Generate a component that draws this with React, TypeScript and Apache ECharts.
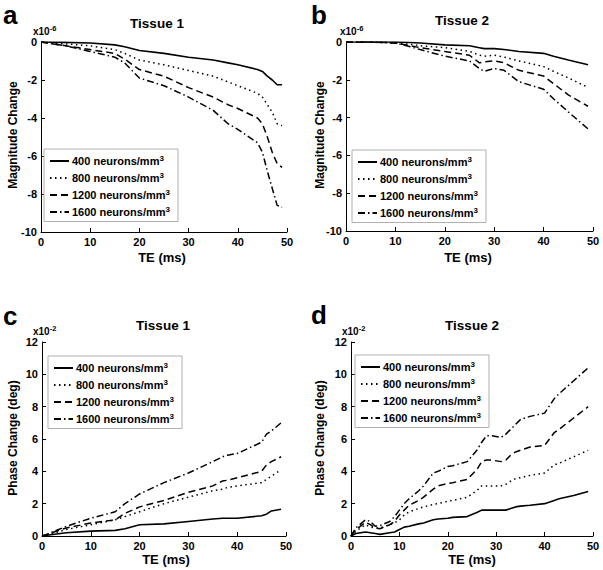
import React, { useEffect, useRef } from "react";
import * as echarts from "echarts";

// ---------- Data ----------
const seriesNames = ["400 neurons/mm", "800 neurons/mm", "1200 neurons/mm", "1600 neurons/mm"];

// Panel a: Tissue 1, magnitude change (x10^-6)
const xA = [0, 5, 10, 15, 17, 20, 25, 30, 35, 38, 40, 44, 45, 46, 47, 48, 49];
const a400 = [0, -0.02, -0.05, -0.15, -0.25, -0.45, -0.6, -0.8, -0.95, -1.1, -1.2, -1.45, -1.55, -1.8, -2.0, -2.25, -2.25];
const a800 = [0, -0.1, -0.2, -0.4, -0.6, -0.95, -1.2, -1.5, -1.8, -2.1, -2.3, -2.7, -2.9, -3.3, -3.7, -4.3, -4.4];
const a1200 = [0, -0.2, -0.4, -0.6, -0.9, -1.45, -1.8, -2.4, -2.9, -3.3, -3.5, -4.0, -4.3, -5.0, -5.8, -6.4, -6.6];
const a1600 = [0, -0.2, -0.5, -0.8, -1.1, -1.9, -2.3, -2.9, -3.6, -4.3, -4.6, -5.3, -5.8, -6.8, -7.7, -8.6, -8.7];

// Panel b: Tissue 2, magnitude change (x10^-6)
const xB = [0, 5, 10, 13, 15, 20, 25, 27, 28, 30, 32, 35, 40, 42, 45, 49];
const b400 = [0, 0, 0, -0.03, -0.05, -0.15, -0.2, -0.3, -0.35, -0.35, -0.4, -0.5, -0.6, -0.75, -0.95, -1.2];
const b800 = [0, 0, -0.05, -0.12, -0.2, -0.3, -0.5, -0.7, -0.75, -0.7, -0.8, -1.0, -1.3, -1.55, -1.9, -2.4];
const b1200 = [0, 0, -0.05, -0.2, -0.3, -0.5, -0.7, -1.1, -1.05, -1.0, -1.1, -1.5, -1.8, -2.2, -2.8, -3.4];
const b1600 = [0, 0, -0.05, -0.25, -0.4, -0.75, -1.0, -1.4, -1.55, -1.4, -1.5, -2.1, -2.5, -3.0, -3.7, -4.6];

// Panel c: Tissue 1, phase change (x10^-2 deg)
const xC = [0, 1, 5, 10, 15, 17, 20, 25, 30, 35, 37, 38, 40, 45, 46, 47, 49];
const c400 = [0, 0.05, 0.2, 0.3, 0.35, 0.45, 0.7, 0.75, 0.9, 1.05, 1.1, 1.1, 1.1, 1.25, 1.35, 1.55, 1.65];
const c800 = [0, 0.05, 0.4, 0.7, 1.0, 1.2, 1.5, 2.0, 2.4, 2.8, 2.9, 3.0, 3.1, 3.3, 3.5, 3.7, 4.1];
const c1200 = [0, 0.1, 0.5, 0.8, 1.0, 1.4, 1.8, 2.2, 2.7, 3.1, 3.4, 3.45, 3.6, 4.0, 4.4, 4.6, 4.9];
const c1600 = [0, 0.1, 0.6, 1.1, 1.5, 2.0, 2.6, 3.3, 3.9, 4.6, 4.9, 5.0, 5.1, 5.8, 6.3, 6.5, 7.0];

// Panel d: Tissue 2, phase change (x10^-2 deg)
const xD = [0, 1, 3, 4, 5, 6, 8, 9, 10, 11, 12, 14, 15, 17, 18, 20, 21, 24, 26, 27, 28, 29, 31, 32, 33, 34, 35, 37, 40, 42, 43, 46, 49];
const d400 = [0, 0.15, 0.25, 0.2, 0.15, 0.1, 0.2, 0.25, 0.4, 0.55, 0.6, 0.75, 0.8, 1.0, 1.05, 1.1, 1.15, 1.2, 1.45, 1.6, 1.6, 1.6, 1.6, 1.6, 1.7, 1.8, 1.85, 1.9, 2.0, 2.2, 2.3, 2.5, 2.75];
const d800 = [0, 0.3, 0.7, 0.55, 0.5, 0.5, 0.7, 0.8, 1.0, 1.3, 1.5, 1.7, 1.8, 1.95, 2.0, 2.15, 2.2, 2.4, 2.8, 3.1, 3.1, 3.1, 3.1, 3.2, 3.4, 3.55, 3.6, 3.75, 3.9, 4.4, 4.5, 4.9, 5.3];
const d1200 = [0, 0.4, 0.85, 0.7, 0.5, 0.45, 0.7, 0.9, 1.3, 1.6, 1.9, 2.2, 2.4, 2.9, 3.1, 3.25, 3.3, 3.5, 4.1, 4.6, 4.7, 4.7, 4.6, 4.7, 5.0, 5.2, 5.3, 5.5, 5.6, 6.4, 6.6, 7.3, 8.0];
const d1600 = [0, 0.5, 1.0, 0.9, 0.6, 0.65, 0.9, 1.2, 1.6, 2.0, 2.3, 2.8, 3.1, 3.9, 4.0, 4.3, 4.35, 4.6, 5.3, 5.8, 6.2, 6.2, 6.1, 6.3, 6.6, 6.9, 7.2, 7.4, 7.6, 8.5, 8.8, 9.6, 10.4];

const magTicks = { min: -10, max: 0, interval: 2 };
const phaseTicks = { min: 0, max: 12, interval: 2 };
const teTicks = { min: 0, max: 50, interval: 10 };

// ---------- Styling ----------
const FONT = "'Liberation Sans', Arial, sans-serif";
const lineTypes: any[] = ["solid", [1.5, 3.5], [7, 4], [7, 3, 1.5, 3]];

const panels = [
  { xs: xA, ys: [a400, a800, a1200, a1600], grid: { left: 41, top: 42, width: 246, height: 190 }, y: magTicks,
    legend: { left: 44, top: 149 }, letter: "a", lx: 3, ly: 15, title: "Tissue 1", tx: 157, ty: 23,
    exp: "-6", ex: 33, ey: 31, yname: "Magnitude Change", ynx: 13, yny: 135, xnx: 162, xny: 257 },
  { xs: xB, ys: [b400, b800, b1200, b1600], grid: { left: 346, top: 42, width: 247, height: 189 }, y: magTicks,
    legend: { left: 352, top: 150 }, letter: "b", lx: 311, ly: 15, title: "Tissue 2", tx: 462, ty: 20,
    exp: "-6", ex: 340, ey: 31, yname: "Magnitude Change", ynx: 320, yny: 135, xnx: 468, xny: 257 },
  { xs: xC, ys: [c400, c800, c1200, c1600], grid: { left: 42, top: 342, width: 244, height: 194 }, y: phaseTicks,
    legend: { left: 48, top: 356 }, letter: "c", lx: 3, ly: 316, title: "Tissue 1", tx: 163, ty: 325,
    exp: "-2", ex: 33, ey: 331, yname: "Phase Change (deg)", ynx: 13, yny: 438, xnx: 166, xny: 559 },
  { xs: xD, ys: [d400, d800, d1200, d1600], grid: { left: 351, top: 342, width: 242, height: 194 }, y: phaseTicks,
    legend: { left: 355, top: 355 }, letter: "d", lx: 311, ly: 315, title: "Tissue 2", tx: 472, ty: 325,
    exp: "-2", ex: 342, ey: 331, yname: "Phase Change (deg)", ynx: 320, yny: 438, xnx: 472, xny: 559 },
];

function buildOption() {
  const grid: any[] = [];
  const xAxis: any[] = [];
  const yAxis: any[] = [];
  const series: any[] = [];
  const legend: any[] = [];
  const graphic: any[] = [];

  const axisCommon = {
    axisLine: { show: true, onZero: false, lineStyle: { color: "#000", width: 1 } },
    axisTick: { show: true, inside: true, length: 4, lineStyle: { color: "#000" } },
    splitLine: { show: false },
    axisLabel: { color: "#000", fontFamily: FONT, fontWeight: "bold", fontSize: 11 },
  };

  panels.forEach((p, i) => {
    grid.push({ ...p.grid, containLabel: false });
    xAxis.push({
      type: "value", gridIndex: i, ...teTicks, ...axisCommon,
      axisLabel: { ...axisCommon.axisLabel, margin: 4 },
    });
    yAxis.push({
      type: "value", gridIndex: i, ...p.y, ...axisCommon,
      axisLabel: { ...axisCommon.axisLabel, margin: 4 },
    });
    seriesNames.forEach((name, k) => {
      series.push({
        type: "line", name, xAxisIndex: i, yAxisIndex: i,
        data: p.xs.map((x, j) => [x, p.ys[k][j]]),
        symbol: "circle", showSymbol: false,
        lineStyle: { color: "#000", width: k === 0 ? 1.6 : 1.5, type: lineTypes[k] },
        itemStyle: { color: "#000" },
      });
    });
    legend.push({
      data: seriesNames, orient: "vertical", left: p.legend.left, top: p.legend.top,
      itemWidth: 19, itemHeight: 12, itemGap: 4.5, padding: [5, 8, 4, 5],
      borderColor: "#b0b0b0", borderWidth: 1, backgroundColor: "#fff",
      selectedMode: false,
      itemStyle: { opacity: 0, borderWidth: 0 },
      formatter: (n: string) => `{t|${n}}{s|3}`,
      textStyle: {
        color: "#000", fontFamily: FONT, fontWeight: "bold", fontSize: 11, padding: [0, 0, 0, -2],
        rich: {
          t: { fontFamily: FONT, fontWeight: "bold", fontSize: 11, color: "#000", lineHeight: 14 },
          s: { fontFamily: FONT, fontWeight: "bold", fontSize: 8, color: "#000", verticalAlign: "top", lineHeight: 9 },
        },
      },
    });
    graphic.push(
      { type: "text", x: p.lx, y: p.ly, style: { text: p.letter, font: `bold 26px ${FONT}`, fill: "#000", textVerticalAlign: "middle" } },
      { type: "text", x: p.tx, y: p.ty, style: { text: p.title, font: `bold 13.5px ${FONT}`, fill: "#000", textAlign: "center", textVerticalAlign: "middle" } },
      {
        type: "text", x: p.ex, y: p.ey,
        style: {
          text: `{b|x10}{s|${p.exp}}`, textVerticalAlign: "middle",
          rich: {
            b: { font: `bold 10px ${FONT}`, fill: "#000", lineHeight: 14 },
            s: { font: `bold 7.5px ${FONT}`, fill: "#000", verticalAlign: "top", lineHeight: 8 },
          },
        },
      },
      { type: "text", x: p.ynx, y: p.yny, rotation: Math.PI / 2, style: { text: p.yname, font: `bold 12px ${FONT}`, fill: "#000", textAlign: "center", textVerticalAlign: "middle" } },
      { type: "text", x: p.xnx, y: p.xny, style: { text: "TE (ms)", font: `bold 13px ${FONT}`, fill: "#000", textAlign: "center", textVerticalAlign: "middle" } },
    );
  });

  return { animation: false, backgroundColor: "#fff", grid, xAxis, yAxis, series, legend, graphic };
}

export default function App() {
  const ref = useRef<HTMLDivElement>(null);
  useEffect(() => {
    if (!ref.current) return;
    const chart = echarts.init(ref.current, undefined, { renderer: "svg" });
    chart.setOption(buildOption());
    return () => chart.dispose();
  }, []);
  return <div ref={ref} style={{ position: "fixed", left: 0, top: 0, width: 603, height: 570, background: "#fff" }} />;
}
